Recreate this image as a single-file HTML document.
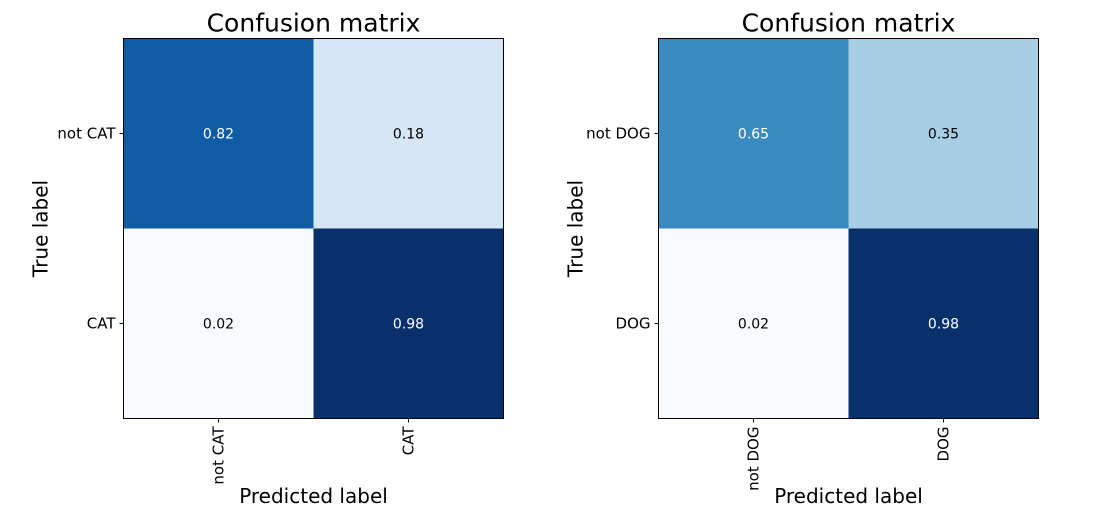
<!DOCTYPE html>
<html><head><meta charset="utf-8"><style>
body{margin:0;background:#fff;width:1097px;height:530px;overflow:hidden}
svg{display:block;font-family:"DejaVu Sans","Liberation Sans",sans-serif}
</style></head><body>
<svg id="chart" width="1097" height="530"></svg>
<script>
const leftLabels = ["not CAT", "CAT"];
const leftValues = [[0.82, 0.18], [0.02, 0.98]];
const rightLabels = ["not DOG", "DOG"];
const rightValues = [[0.65, 0.35], [0.02, 0.98]];
const titleText = "Confusion matrix";

const stops = ["#f7fbff","#deebf7","#c6dbef","#9ecae1","#6baed6","#4292c6","#2171b5","#08519c","#08306b"];
function hex(c){return [1,3,5].map(i=>parseInt(c.substr(i,2),16));}
function blues(t){
  t=Math.max(0,Math.min(1,t));
  const p=t*(stops.length-1), i=Math.min(Math.floor(p),stops.length-2), f=p-i;
  const a=hex(stops[i]), b=hex(stops[i+1]);
  return "rgb("+a.map((v,k)=>Math.round(v+(b[k]-v)*f)).join(",")+")";
}
const NS="http://www.w3.org/2000/svg";
const svg=document.getElementById("chart");
function el(tag,attrs,parent){const e=document.createElementNS(NS,tag);for(const k in attrs)e.setAttribute(k,attrs[k]);(parent||svg).appendChild(e);return e;}

function drawMatrix(x0,y0,size,labels,values,prefix){
  const g=el("g",{});
  
  
  const n=labels.length, cs=size/n;
  const flat=values.flat(), mn=Math.min(...flat), mx=Math.max(...flat);
  const thresh=mx/2;
  const xs=j=>x0+j*cs, ys=i=>y0+i*cs;
  for(let i=0;i<n;i++)for(let j=0;j<n;j++){
    const v=values[i][j];
    const r=el("rect",{x:xs(j),y:ys(i),width:cs,height:cs,fill:blues((v-mn)/(mx-mn))},g);
    
    
    const t=el("text",{x:xs(j)+cs/2,y:ys(i)+cs/2+5,"text-anchor":"middle","font-size":"14",fill:v>thresh?"#fff":"#000"},g);
    t.textContent=v.toFixed(2);
    
    
  }
  const fr=el("rect",{x:x0,y:y0,width:size,height:size,fill:"none",stroke:"#000","stroke-width":1},g);
  
  
  for(let i=0;i<n;i++){
    const cy=ys(i)+cs/2;
    el("line",{x1:x0-4,x2:x0,y1:cy,y2:cy,stroke:"#000"},g);
    const t=el("text",{x:x0-8,y:cy+5,"text-anchor":"end","font-size":"15",fill:"#000"},g);
    t.textContent=labels[i];
    
    
    const cx=xs(i)+cs/2;
    el("line",{x1:cx,x2:cx,y1:y0+size,y2:y0+size+4,stroke:"#000"},g);
    const tx=el("text",{x:0,y:0,"text-anchor":"end","font-size":"15",fill:"#000",transform:"translate("+(cx+5)+","+(y0+size+8)+") rotate(-90)"},g);
    tx.textContent=labels[i];
    
    
  }
  const ti=el("text",{x:x0+size/2,y:y0-7,"text-anchor":"middle","font-size":"25",fill:"#000"},g);
  ti.textContent=titleText;
  
  
  const xl=el("text",{x:x0+size/2,y:503,"text-anchor":"middle","font-size":"20",fill:"#000"},g);
  xl.textContent="Predicted label";
  
  
  const yl=el("text",{x:0,y:0,"text-anchor":"middle","font-size":"20",fill:"#000",transform:"translate("+(x0-76)+","+(y0+size/2)+") rotate(-90)"},g);
  yl.textContent="True label";
  
  
}
drawMatrix(123.5,38.5,380,leftLabels,leftValues,"cat");
drawMatrix(658.5,38.5,380,rightLabels,rightValues,"dog");
</script>
</body></html>
